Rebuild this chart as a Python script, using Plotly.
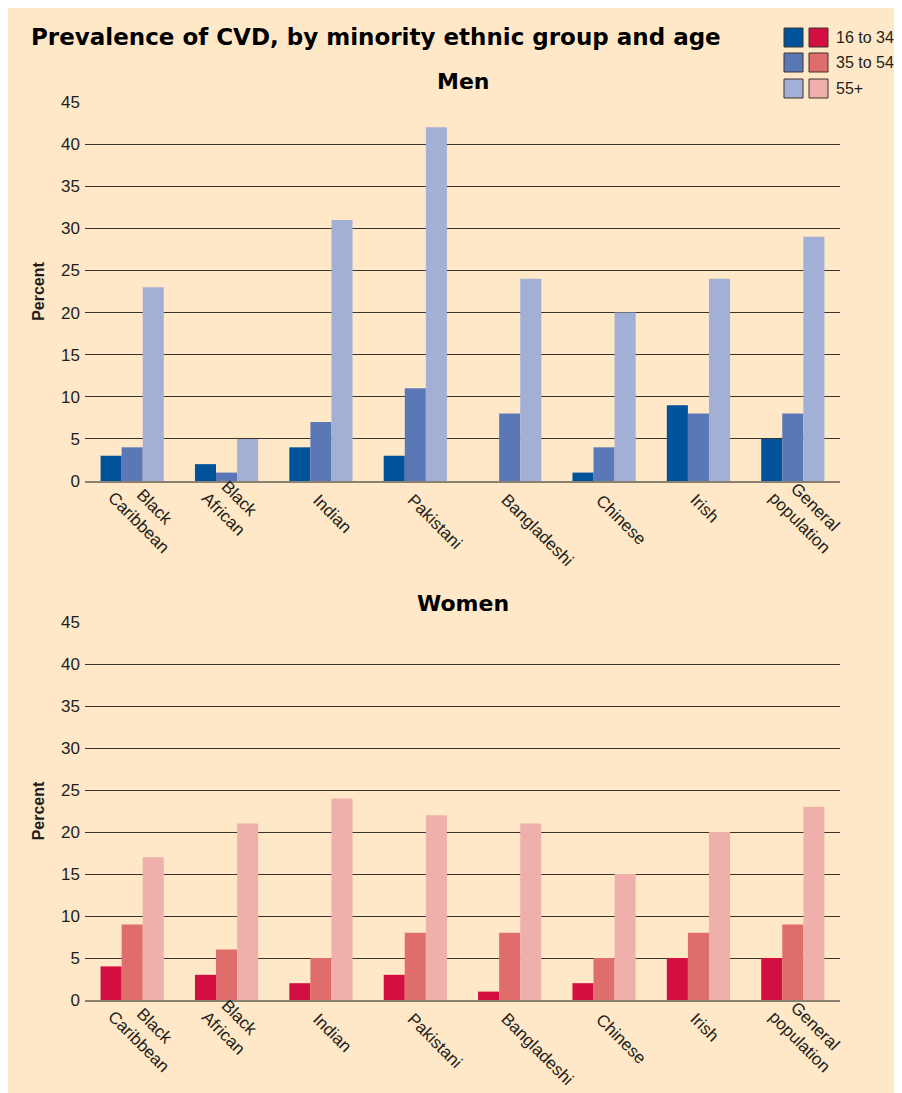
import plotly.graph_objects as go
from plotly.subplots import make_subplots

# Data
groups = ["Black<br>Caribbean", "Black<br>African", "Indian", "Pakistani",
          "Bangladeshi", "Chinese", "Irish", "General<br>population"]
age_bands = ["16 to 34", "35 to 54", "55+"]

men_16_34 = [3, 2, 4, 3, 0, 1, 9, 5]
men_35_54 = [4, 1, 7, 11, 8, 4, 8, 8]
men_55_plus = [23, 5, 31, 42, 24, 20, 24, 29]

women_16_34 = [4, 3, 2, 3, 1, 2, 5, 5]
women_35_54 = [9, 6, 5, 8, 8, 5, 8, 9]
women_55_plus = [17, 21, 24, 22, 21, 15, 20, 23]

y_ticks = [0, 5, 10, 15, 20, 25, 30, 35, 40, 45]

# Colours
men_colors = ["#00529b", "#5a78b6", "#a3b0d6"]
women_colors = ["#d20f40", "#df6d6c", "#efb0ab"]
bg = "#ffe8c8"
txt = "#231f20"

# figure sits inside the page body margin of 8px
W, H = 894, 1085
ML, MR, MT, MB = 77, 62, 94, 93
PW, PH = W - ML - MR, H - MT - MB


def px_x(p):
    return (p - ML) / PW


def px_y(p):
    return (H - MB - p) / PH


fig = make_subplots(rows=2, cols=1, vertical_spacing=0.0)

for name, vals, col in zip(age_bands, [men_16_34, men_35_54, men_55_plus], men_colors):
    fig.add_trace(go.Bar(x=groups, y=vals, name=name, marker_color=col,
                         marker_line_width=0, showlegend=False), row=1, col=1)
for name, vals, col in zip(age_bands, [women_16_34, women_35_54, women_55_plus], women_colors):
    fig.add_trace(go.Bar(x=groups, y=vals, name=name, marker_color=col,
                         marker_line_width=0, showlegend=False), row=2, col=1)

sans = "Liberation Sans, Arial, sans-serif"
heavy = "DejaVu Sans, sans-serif"
axis_font = dict(family=sans, size=17, color=txt)

fig.update_layout(
    width=W, height=H,
    margin=dict(l=ML, r=MR, t=MT, b=MB, autoexpand=False),
    paper_bgcolor=bg,
    plot_bgcolor="rgba(0,0,0,0)",
    barmode="group", bargap=0.33, bargroupgap=0,
    font=axis_font,
    yaxis=dict(domain=[px_y(473), 1]),
    yaxis2=dict(domain=[0, px_y(614)]),
)

# fixed range so the slanted labels don't widen the category axis
fig.update_xaxes(range=[-0.5, len(groups) - 0.5], showticklabels=False, showgrid=False,
                 showline=True, linecolor="#8a8070", linewidth=2,
                 ticks="", automargin=False)
fig.update_yaxes(range=[0, 45], tickvals=y_ticks, tickfont=axis_font,
                 showgrid=True, gridcolor="#3a3430", gridwidth=1.4,
                 zeroline=False, ticks="", ticklabelstandoff=4, automargin=False,
                 title=dict(text="<b>Percent</b>",
                            font=dict(family=sans, size=16, color=txt),
                            standoff=12))

# slanted, centred category labels under each panel
for xr, yr in [("x", "y"), ("x2", "y2")]:
    for g in groups:
        two = "<br>" in g
        fig.add_annotation(text=g, xref=xr, yref=yr, x=g, y=0,
                           xanchor="left", yanchor="top", align="center",
                           textangle=45, showarrow=False,
                           xshift=-31 if two else -15, yshift=11 if two else -7,
                           font=axis_font)

# titles
fig.add_annotation(text="<b>Prevalence of CVD, by minority ethnic group and age</b>",
                   xref="paper", yref="paper", x=px_x(21), y=px_y(29),
                   xanchor="left", yanchor="middle", showarrow=False,
                   font=dict(family=heavy, size=23, color="black"))
for label, py in [("Men", 74), ("Women", 595)]:
    fig.add_annotation(text=f"<b>{label}</b>", xref="paper", yref="paper",
                       x=0.5, y=px_y(py), xanchor="center", yanchor="middle",
                       showarrow=False,
                       font=dict(family=heavy, size=22, color="black"))

# legend: two swatches (men / women) per age band
rows_px = [(20, 39), (45, 64), (71, 90)]
for (t, b), name, mc, wc in zip(rows_px, age_bands, men_colors, women_colors):
    for (l, r), c in [((776, 795), mc), ((801, 820), wc)]:
        fig.add_shape(type="rect", xref="paper", yref="paper",
                      x0=px_x(l), x1=px_x(r), y0=px_y(b), y1=px_y(t),
                      fillcolor=c, line=dict(color="#3a3430", width=1))
    fig.add_annotation(text=name, xref="paper", yref="paper",
                       x=px_x(826), y=px_y((t + b) / 2), xanchor="left", yanchor="middle",
                       showarrow=False, font=dict(family=sans, size=16, color=txt))

fig.write_html("out.html")
